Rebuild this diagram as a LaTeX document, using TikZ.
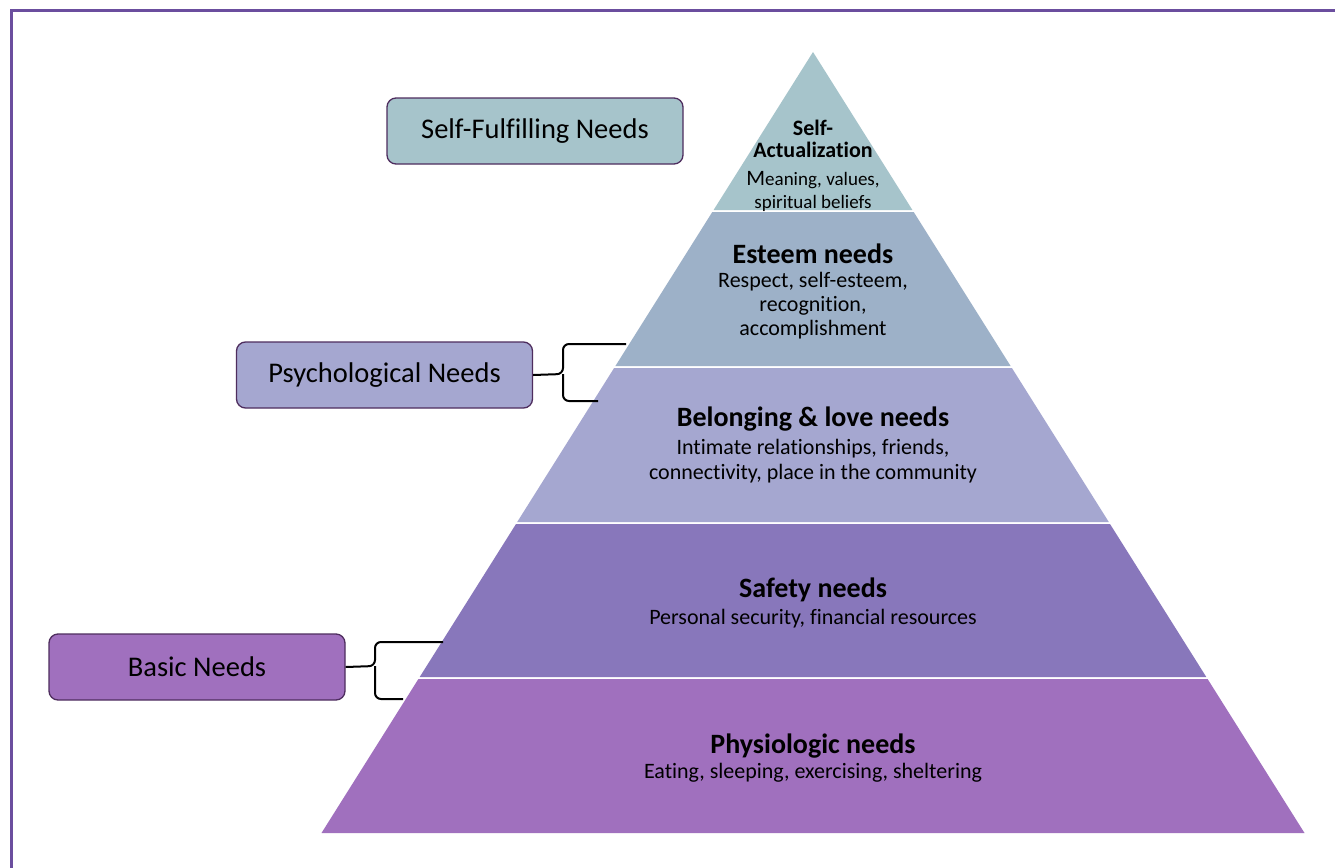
\documentclass[tikz,border=0pt]{standalone}
\usepackage{fontspec}
\setmainfont{Carlito}[Ligatures={NoCommon,NoRare}]
\definecolor{frameline}{HTML}{6B4E9E}
\definecolor{boxline}{HTML}{4E2D5E}
\definecolor{tealgrey}{HTML}{A6C4CB}
\definecolor{bluegrey}{HTML}{9DB1C8}
\definecolor{lavender}{HTML}{A5A7D0}
\definecolor{violet}{HTML}{8877BB}
\definecolor{orchid}{HTML}{A070BE}
\tikzset{
  needbox/.style={draw=boxline, line width=1.3pt, rounded corners=9pt,
    minimum width=296pt, minimum height=66pt, inner sep=0pt,
    font=\fontsize{28.5}{32}\selectfont},
  layerhead/.style={align=center, inner sep=0pt, font=\bfseries\fontsize{28}{30}\selectfont},
  layerbody/.style={align=center, inner sep=0pt, font=\fontsize{22}{24}\selectfont},
  bracket/.style={line width=2pt, rounded corners=6pt}
}
\begin{document}
\begin{tikzpicture}[x=1pt,y=-1pt]
    \useasboundingbox (0,0) rectangle (1335,867);
    \fill[white] (0,0) rectangle (1335,867);
    \draw[frameline, line width=3pt] (11,11) rectangle (1350,885);
    % pyramid layers, apex (813,52), base 833
    \fill[tealgrey] (813,52) -- (912.4,210) -- (713.6,210) -- cycle;
    \fill[bluegrey] (712.3,212) -- (913.7,212) -- (1010.6,366) -- (615.4,366) -- cycle;
    \fill[lavender] (614.1,368) -- (1011.9,368) -- (1108.8,522) -- (517.2,522) -- cycle;
    \fill[violet] (516.0,524) -- (1110.0,524) -- (1206.3,677) -- (419.7,677) -- cycle;
    \fill[orchid] (418.4,679) -- (1207.6,679) -- (1304.5,833) -- (321.5,833) -- cycle;
    % layer texts
    \node[layerhead, font=\bfseries\fontsize{22}{22}\selectfont] (selfhead) at (813,139) {Self-\\Actualization};
    \node[layerbody, font=\fontsize{19}{23}\selectfont] (selfbody) at (813,191)
        {{\fontsize{22}{23}\selectfont M}eaning, values,\\spiritual beliefs};
    \node[layerhead] (esteemhead) at (813,254) {Esteem needs};
    \node[layerbody] (esteembody) at (813,306) {Respect, self-esteem,\\recognition,\\accomplishment};
    \node[layerhead] (lovehead) at (813,419) {Belonging \& love needs};
    \node[layerbody, font=\fontsize{22}{25}\selectfont] (lovebody) at (813,461)
        {Intimate relationships, friends,\\connectivity, place in the community};
    \node[layerhead] (safetyhead) at (813,590) {Safety needs};
    \node[layerbody] (safetybody) at (813,619) {Personal security, financial resources};
    \node[layerhead] (physhead) at (813,746) {Physiologic needs};
    \node[layerbody] (physbody) at (813,773) {Eating, sleeping, exercising, sheltering};
    % need groups
    \node[needbox, fill=tealgrey] (selfbox) at (535,131) {Self-Fulfilling Needs};
    \node[needbox, fill=lavender] (psybox) at (384.5,375) {Psychological Needs};
    \node[needbox, fill=orchid] (basicbox) at (197,667) {Basic Needs};
    % brackets
    \coordinate (psytop) at (626,344);
    \coordinate (psybot) at (598,401);
    \coordinate (basictop) at (443,642);
    \coordinate (basicbot) at (403,699);
    \draw[bracket] (psytop) -| (563,374) -- (psybox.east);
    \draw[bracket] (psybot) -| (563,374);
    \draw[bracket] (basictop) -| (375,666) -- (basicbox.east);
    \draw[bracket] (basicbot) -| (375,666);
\end{tikzpicture}
\end{document}
